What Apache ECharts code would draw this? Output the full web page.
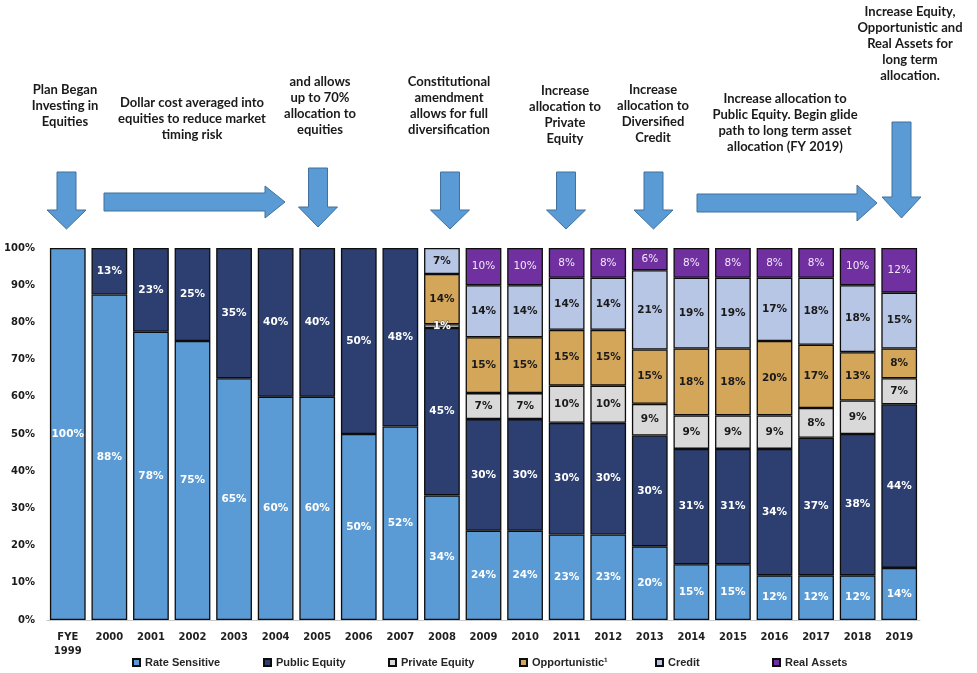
<!DOCTYPE html>
<html>
<head>
<meta charset="utf-8">
<script src="https://cdn.jsdelivr.net/npm/echarts@6/dist/echarts.min.js"></script>
<style>
  html, body { margin: 0; padding: 0; background: #fff; }
  #chart { width: 977px; height: 673px; }
</style>
</head>
<body>
<div id="chart"></div>
<script>
// --- data ---
const years = ['FYE\n1999', '2000', '2001', '2002', '2003', '2004', '2005', '2006', '2007', '2008',
    '2009', '2010', '2011', '2012', '2013', '2014', '2015', '2016', '2017', '2018', '2019'];

const rateSensitive = [100, 87.5, 77.5, 75, 65, 60, 60, 50, 52, 33.5, 24, 24, 23, 23, 19.8, 15, 15, 12, 12, 12, 14];
const publicEquity  = [null, 12.5, 22.5, 25, 35, 40, 40, 50, 48, 45, 30, 30, 30, 30, 29.8, 31, 31, 34, 37, 38, 44];
const privateEquity = [null, null, null, null, null, null, null, null, null, 1, 7, 7, 10, 10, 8.5, 9, 9, 9, 8, 9, 7];
const opportunistic = [null, null, null, null, null, null, null, null, null, 13.5, 15, 15, 15, 15, 14.6, 18, 18, 20, 17, 13, 8];
const credit        = [null, null, null, null, null, null, null, null, null, 7, 14, 14, 14, 14, 21.3, 19, 19, 17, 18, 18, 15];
const realAssets    = [null, null, null, null, null, null, null, null, null, null, 10, 10, 8, 8, 6, 8, 8, 8, 8, 10, 12];

const yTicks = [0, 10, 20, 30, 40, 50, 60, 70, 80, 90, 100];

const seriesDefs = [
    { name: 'Rate Sensitive', data: rateSensitive, color: '#5b9bd5', text: '#ffffff', legendLeft: 132 },
    { name: 'Public Equity',  data: publicEquity,  color: '#2c3f70', text: '#ffffff', legendLeft: 263 },
    { name: 'Private Equity', data: privateEquity, color: '#d9d9d9', text: '#1a1a1a', legendLeft: 388 },
    { name: 'Opportunistic¹', data: opportunistic, color: '#d4a65a', text: '#1a1a1a', legendLeft: 519 },
    { name: 'Credit',         data: credit,        color: '#b8c6e6', text: '#1a1a1a', legendLeft: 655 },
    { name: 'Real Assets',    data: realAssets,    color: '#7030a0', text: '#f2e8fa', legendLeft: 772 }
];

// 注释文字 (center x, center y)
const notes = [
    { text: 'Plan Began\nInvesting in\nEquities', x: 65, y: 106 },
    { text: 'Dollar cost averaged into\nequities to reduce market\ntiming risk', x: 192, y: 119 },
    { text: 'and allows\nup to 70%\nallocation to\nequities', x: 320, y: 106 },
    { text: 'Constitutional\namendment\nallows for full\ndiversification', x: 449, y: 106 },
    { text: 'Increase\nallocation to\nPrivate\nEquity', x: 565, y: 115 },
    { text: 'Increase\nallocation to\nDiversified\nCredit', x: 653, y: 114 },
    { text: 'Increase allocation to\nPublic Equity. Begin glide\npath to long term asset\nallocation (FY 2019)', x: 785, y: 123 },
    { text: 'Increase Equity,\nOpportunistic and\nReal Assets for\nlong term\nallocation.', x: 910, y: 44 }
];

function downArrow(cx, top, headTop, tip) {
    const sw = 9.5, hw = 19.5;
    return [[cx - sw, top], [cx + sw, top], [cx + sw, headTop], [cx + hw, headTop],
            [cx, tip], [cx - hw, headTop], [cx - sw, headTop]];
}
function rightArrow(left, cy, headLeft, tip, shaftH, headH) {
    return [[left, cy - shaftH], [headLeft, cy - shaftH], [headLeft, cy - headH], [tip, cy],
            [headLeft, cy + headH], [headLeft, cy + shaftH], [left, cy + shaftH]];
}

const arrows = [
    downArrow(66.5, 172, 210, 229),
    downArrow(318, 168, 207, 227),
    downArrow(450, 172, 210, 229),
    downArrow(566, 172, 210, 229),
    downArrow(653.5, 172, 210, 229),
    downArrow(901.5, 122, 197, 218),
    rightArrow(104, 202, 265, 285, 9, 16),
    rightArrow(697, 203, 857, 877, 9, 18)
];

const chart = echarts.init(document.getElementById('chart'));

const graphics = [];
arrows.forEach(pts => {
    graphics.push({
        type: 'polygon',
        shape: { points: pts },
        style: { fill: '#5b9bd5', stroke: '#41719c', lineWidth: 1 },
        silent: true
    });
});
notes.forEach(n => {
    graphics.push({
        type: 'text',
        x: n.x,
        y: n.y,
        style: {
            text: n.text,
            textAlign: 'center', align: 'center',
            textVerticalAlign: 'middle', verticalAlign: 'middle',
            fontFamily: 'Lato', fontWeight: 'bold', fontSize: 13,
            lineHeight: 16,
            fill: '#1a1a1a'
        },
        silent: true
    });
});

// 很小的段 (如 2008 的 1%) 用白字
function segData(s) {
    return s.data.map(v => (v != null && v < 2)
        ? { value: v, label: { color: '#ffffff', textBorderColor: '#555', textBorderWidth: 1 } }
        : v);
}

const option = {
    animation: false,
    backgroundColor: '#ffffff',
    textStyle: { fontFamily: 'DejaVu Sans' },
    grid: { left: 47, right: 57, top: 248, bottom: 53, containLabel: false },
    legend: seriesDefs.map(s => ({
        data: [s.name],
        left: s.legendLeft,
        top: 657,
        icon: 'rect',
        itemWidth: 7,
        itemHeight: 7,
        itemGap: 4,
        padding: 0,
        selectedMode: false,
        textStyle: { fontFamily: 'Liberation Sans', fontWeight: 'bold', fontSize: 11, color: '#262626' }
    })),
    xAxis: {
        type: 'category',
        data: years,
        axisLine: { lineStyle: { color: '#c8c8c8', width: 1 } },
        axisTick: { show: false },
        axisLabel: {
            interval: 0,
            margin: 10,
            color: '#1f1f1f',
            fontFamily: 'DejaVu Sans',
            fontWeight: 'bold',
            fontSize: 10,
            lineHeight: 14
        }
    },
    yAxis: {
        type: 'value',
        min: yTicks[0],
        max: yTicks[yTicks.length - 1],
        interval: 10,
        axisLine: { show: false },
        axisTick: { show: false },
        splitLine: { show: false },
        axisLabel: {
            margin: 12,
            color: '#1a1a1a',
            fontFamily: 'DejaVu Sans',
            fontWeight: 'bold',
            fontSize: 10,
            formatter: '{value}%'
        }
    },
    series: seriesDefs.map(s => ({
        name: s.name,
        type: 'bar',
        stack: 'alloc',
        barCategoryGap: '14%',
        data: segData(s),
        itemStyle: { color: s.color, borderColor: '#0d0d0d', borderWidth: 1.3 },
        label: {
            show: true,
            position: 'inside',
            color: s.text,
            fontFamily: 'DejaVu Sans',
            fontWeight: s.name === 'Real Assets' ? 'normal' : 'bold',
            fontSize: 10.5,
            formatter: p => (p.value == null ? '' : Math.round(p.value) + '%')
        }
    })),
    graphic: graphics
};

chart.setOption(option);
</script>
</body>
</html>
